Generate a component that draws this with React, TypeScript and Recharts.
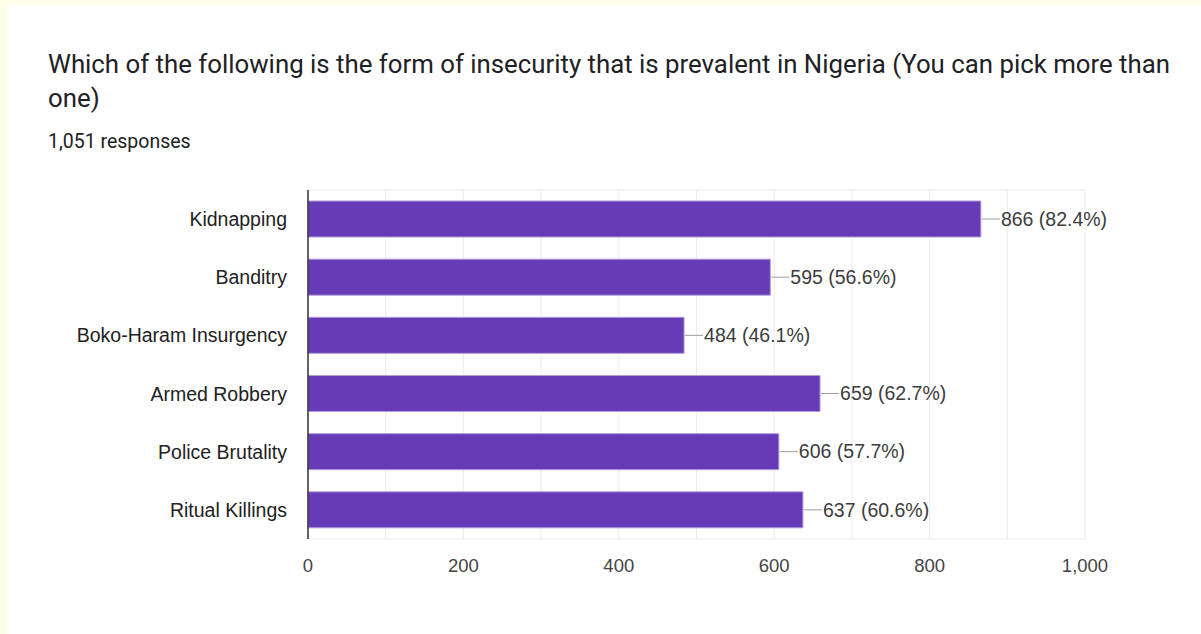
import React from 'react';
import { BarChart, Bar, XAxis, YAxis, CartesianGrid, LabelList } from 'recharts';

const categories = ['Kidnapping', 'Banditry', 'Boko-Haram Insurgency', 'Armed Robbery', 'Police Brutality', 'Ritual Killings'];
const counts = [866, 595, 484, 659, 606, 637];
const percents = ['82.4%', '56.6%', '46.1%', '62.7%', '57.7%', '60.6%'];
const xTicks = [0, 100, 200, 300, 400, 500, 600, 700, 800, 900, 1000];

const TITLE = 'Which of the following is the form of insecurity that is prevalent in Nigeria (You can pick more than one)';
const RESPONSES = '1,051 responses';

const data = categories.map((name, i) => ({
    name,
    value: counts[i],
    label: `${counts[i]} (${percents[i]})`
}));

const VALUE_FONT = '"Liberation Sans", Arial, sans-serif';

function ValueLabel(props: any) {
    const { x, y, width, height, value } = props;
    const endX = x + width;
    const midY = y + height / 2;
    return (
        <g>
            <line x1={endX + 1} y1={midY} x2={endX + 19} y2={midY} stroke="#9e9e9e" strokeWidth={1} />
            <text x={endX + 20} y={midY} dy="0.35em" fontSize={19.5} fontFamily={VALUE_FONT} fill="#3c3c3c">
                {value}
            </text>
        </g>
    );
}

export default function App() {
    return (
        <div style={{ position: 'absolute', left: 0, top: 0, width: 1201, height: 634, background: '#fefee8', overflow: 'hidden' }}>
            <div style={{ position: 'absolute', left: 7, top: 5, width: 1194, height: 629, background: '#ffffff' }} />
            <div
                style={{
                    position: 'absolute',
                    left: 48,
                    top: 47,
                    width: 1140,
                    fontFamily: 'Roboto, sans-serif',
                    fontSize: 25.8,
                    lineHeight: '34px',
                    color: '#202124'
                }}
            >
                {TITLE}
            </div>
            <div
                style={{
                    position: 'absolute',
                    left: 48,
                    top: 130,
                    fontFamily: 'Roboto, sans-serif',
                    fontSize: 19.5,
                    color: '#202124'
                }}
            >
                {RESPONSES}
            </div>
            <div style={{ position: 'absolute', left: 0, top: 0 }}>
                <BarChart
                    width={1201}
                    height={634}
                    data={data}
                    layout="vertical"
                    margin={{ top: 190, right: 116, left: 0, bottom: 65 }}
                >
                    <CartesianGrid
                        stroke="#ebebeb"
                        horizontalPoints={[190, 539]}
                        fill="none"
                    />
                    <XAxis
                        type="number"
                        domain={[0, 1000]}
                        ticks={xTicks}
                        interval={0}
                        axisLine={false}
                        tickLine={false}
                        height={30}
                        tickMargin={14}
                        tickFormatter={(v: number) => (v % 200 === 0 ? v.toLocaleString('en-US') : '')}
                        tick={{ fontSize: 18.5, fontFamily: VALUE_FONT, fill: '#444444' }}
                    />
                    <YAxis
                        type="category"
                        dataKey="name"
                        width={308}
                        axisLine={{ stroke: '#333333', strokeWidth: 1.5 }}
                        tickLine={false}
                        tickSize={0}
                        tickMargin={21}
                        tick={{ fontSize: 19.5, fontFamily: VALUE_FONT, fill: '#222222' }}
                    />
                    <Bar dataKey="value" barSize={36} fill="#673ab7" stroke="#b39ddb" strokeWidth={1} isAnimationActive={false}>
                        <LabelList dataKey="label" content={<ValueLabel />} />
                    </Bar>
                </BarChart>
            </div>
        </div>
    );
}
